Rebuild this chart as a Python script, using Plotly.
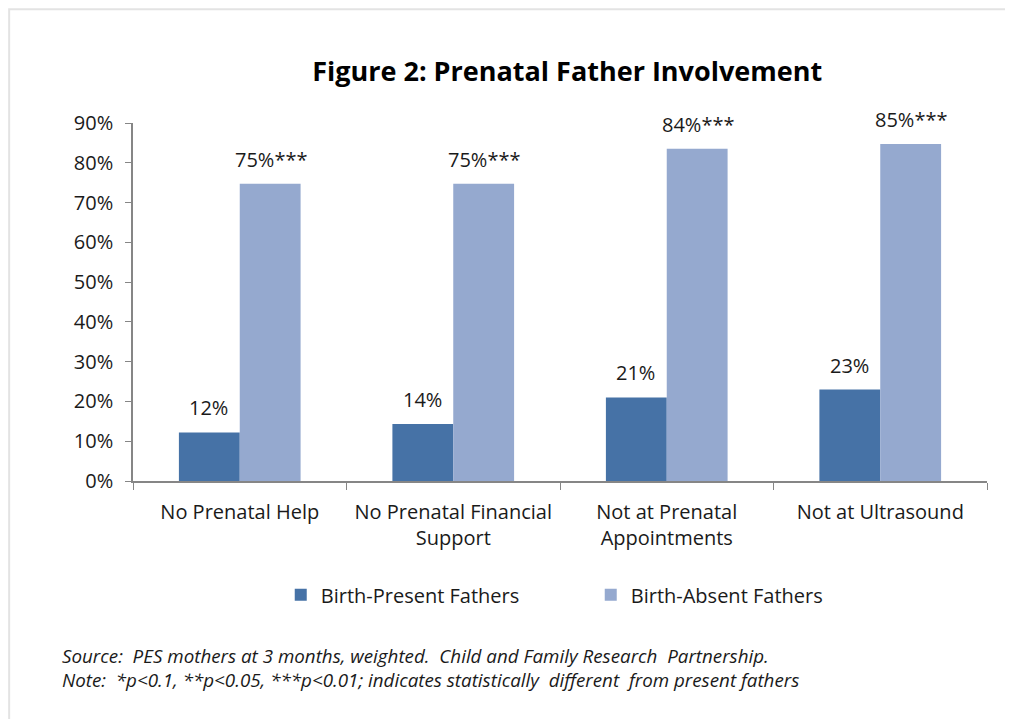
import plotly.graph_objects as go

categories = ["No Prenatal Help", "No Prenatal Financial<br>Support", "Not at Prenatal<br>Appointments", "Not at Ultrasound"]
present_vals = [12.2, 14.3, 21.0, 23.0]
absent_vals = [74.7, 74.7, 83.5, 84.7]
present_labels = ["12%", "14%", "21%", "23%"]
absent_labels = ["75%***", "75%***", "84%***", "85%***"]
y_ticks = [0, 10, 20, 30, 40, 50, 60, 70, 80, 90]
y_ticklabels = [f"{v}%" for v in y_ticks]

FONT = "'Open Sans', Lato, Arial, sans-serif"
TXT = "#1a1a1a"
C_PRESENT = "#4672a6"
C_ABSENT = "#95a9cf"

fig = go.Figure()
fig.add_trace(go.Bar(x=categories, y=present_vals, name="Birth-Present Fathers",
                     marker=dict(color=C_PRESENT, line=dict(width=0))))
fig.add_trace(go.Bar(x=categories, y=absent_vals, name="Birth-Absent Fathers",
                     marker=dict(color=C_ABSENT, line=dict(width=0))))

annotations = []
for c, v, t in zip(categories, present_vals, present_labels):
    annotations.append(dict(x=c, y=v, xref="x", yref="y", text=t, showarrow=False,
                            xshift=-31, yshift=9, yanchor="bottom",
                            font=dict(family=FONT, size=20, color=TXT)))
for c, v, t in zip(categories, absent_vals, absent_labels):
    annotations.append(dict(x=c, y=v, xref="x", yref="y", text=t, showarrow=False,
                            xshift=31, yshift=9, yanchor="bottom",
                            font=dict(family=FONT, size=20, color=TXT)))

annotations.append(dict(
    x=-0.0855, y=-0.447, xref="paper", yref="paper", xanchor="left", yanchor="top",
    align="left", showarrow=False,
    text="<i>Source:  PES mothers at 3 months, weighted.  Child and Family Research  Partnership.</i><br>"
         "<i>Note:  *p&lt;0.1, **p&lt;0.05, ***p&lt;0.01; indicates statistically  different  from present fathers</i>",
    font=dict(family=FONT, size=18.8, color=TXT)))

fig.update_layout(
    width=1013, height=719,
    paper_bgcolor="white", plot_bgcolor="white",
    margin=dict(l=125, r=34, t=115, b=246),
    barmode="group", bargap=0.43, bargroupgap=0,
    title=dict(text="<b>Figure 2: Prenatal Father Involvement</b>", x=0.552, xanchor="center",
               y=0.911, yanchor="middle",
               font=dict(family=FONT, size=27, color="#000000")),
    font=dict(family=FONT, size=20, color=TXT),
    legend=dict(orientation="h", x=0.536, xanchor="center", y=-0.318, yanchor="middle",
                font=dict(family=FONT, size=20, color=TXT),
                entrywidth=265, traceorder="normal"),
    annotations=annotations,
    shapes=[dict(type="rect", xref="paper", yref="paper", x0=-0.145, x1=1.2, y0=-1.0, y1=1.318,
                 line=dict(color="#e3e3e3", width=2), layer="below")],
    showlegend=True,
)
fig.update_xaxes(showline=True, linecolor="#868686", linewidth=1.5, ticks="outside",
                 tickson="boundaries", ticklen=7, tickcolor="#868686",
                 ticklabelstandoff=12,
                 tickfont=dict(family=FONT, size=20, color=TXT),
                 showgrid=False)
fig.update_yaxes(range=[0, 90], tickvals=y_ticks, ticktext=y_ticklabels,
                 showline=True, linecolor="#868686", linewidth=1.5, ticks="outside",
                 ticklen=6, tickcolor="#868686", showgrid=False, zeroline=False,
                 ticklabelstandoff=8,
                 tickfont=dict(family=FONT, size=20, color=TXT))

fig.write_html("out.html")
